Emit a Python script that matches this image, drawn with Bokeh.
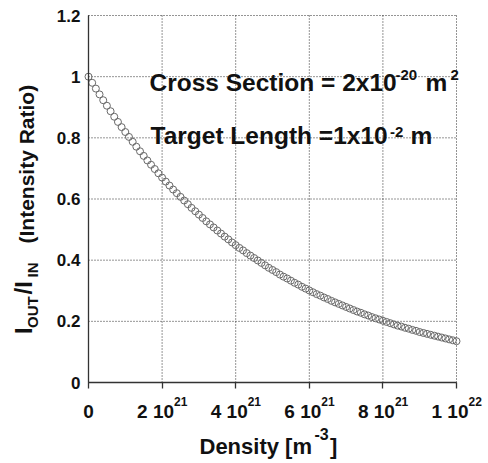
from math import pi
from bokeh.plotting import figure
from bokeh.models import Range1d, FixedTicker, Label, LinearAxis
from bokeh.embed import file_html
from bokeh.resources import INLINE

# ---------------- data ----------------
density_1e20 = [0, 1, 2, 3, 4, 5, 6, 7, 8, 9, 10, 11, 12, 13, 14, 15, 16, 17, 18, 19,
                20, 21, 22, 23, 24, 25, 26, 27, 28, 29, 30, 31, 32, 33, 34, 35, 36, 37, 38, 39,
                40, 41, 42, 43, 44, 45, 46, 47, 48, 49, 50, 51, 52, 53, 54, 55, 56, 57, 58, 59,
                60, 61, 62, 63, 64, 65, 66, 67, 68, 69, 70, 71, 72, 73, 74, 75, 76, 77, 78, 79,
                80, 81, 82, 83, 84, 85, 86, 87, 88, 89, 90, 91, 92, 93, 94, 95, 96, 97, 98, 99, 100]
intensity_ratio = [1.000, 0.980, 0.961, 0.942, 0.923, 0.905, 0.887, 0.869, 0.852, 0.835,
                   0.819, 0.803, 0.787, 0.771, 0.756, 0.741, 0.726, 0.712, 0.698, 0.684,
                   0.670, 0.657, 0.644, 0.631, 0.619, 0.607, 0.595, 0.583, 0.571, 0.560,
                   0.549, 0.538, 0.527, 0.517, 0.507, 0.497, 0.487, 0.477, 0.468, 0.458,
                   0.449, 0.440, 0.432, 0.423, 0.415, 0.407, 0.399, 0.391, 0.383, 0.375,
                   0.368, 0.361, 0.353, 0.346, 0.340, 0.333, 0.326, 0.320, 0.313, 0.307,
                   0.301, 0.295, 0.289, 0.284, 0.278, 0.273, 0.267, 0.262, 0.257, 0.252,
                   0.247, 0.242, 0.237, 0.232, 0.228, 0.223, 0.219, 0.214, 0.210, 0.206,
                   0.202, 0.198, 0.194, 0.190, 0.186, 0.183, 0.179, 0.176, 0.172, 0.169,
                   0.165, 0.162, 0.159, 0.156, 0.153, 0.150, 0.147, 0.144, 0.141, 0.138, 0.135]
density = [d * 1e20 for d in density_1e20]

x_tick_vals = [0, 2e21, 4e21, 6e21, 8e21, 1e22]
x_tick_mant = ["0", "2 10", "4 10", "6 10", "8 10", "1 10"]
x_tick_exp = ["", "21", "21", "21", "21", "22"]
y_tick_vals = [0, 0.2, 0.4, 0.6, 0.8, 1.0, 1.2]
y_tick_labels = ["0", "0.2", "0.4", "0.6", "0.8", "1", "1.2"]

X_MAX = 1e22
Y_MAX = 1.2

# ---------------- layout (pixel geometry of the plot box) ----------------
W, H = 488, 463
PX_L, PX_R = 88, 456      # picture x of density 0 and 1e22
PY_B, PY_T = 382, 15      # picture y of ratio 0 and 1.2
FONT = "Liberation Sans"
INK = "#111111"
BASE = 0.35               # label anchor sits this many em above the drawn baseline


def X(px):  # picture pixel x -> data x
    return X_MAX * (px - PX_L) / (PX_R - PX_L)


def Y(py):  # picture pixel y -> data y
    return Y_MAX * (PY_B - py) / (PY_B - PY_T)


p = figure(width=W, height=H, output_backend="svg", toolbar_location=None,
           x_range=Range1d(X(0), X(W)), y_range=Range1d(Y(H), Y(0)),
           x_axis_location=None, y_axis_location=None,
           min_border_left=0, min_border_right=0, min_border_top=0, min_border_bottom=0)
p.outline_line_color = None
p.background_fill_color = "white"
p.border_fill_color = "white"
p.xgrid.visible = False
p.ygrid.visible = False

# dotted grid (incl. the top and right box edges), from the tick arrays
p.segment(x0=x_tick_vals, y0=[0] * len(x_tick_vals), x1=x_tick_vals, y1=[Y_MAX] * len(x_tick_vals),
          line_color="#2a2a2a", line_dash="1 2", line_width=1)
p.segment(x0=[0] * len(y_tick_vals), y0=y_tick_vals, x1=[X_MAX] * len(y_tick_vals), y1=y_tick_vals,
          line_color="#2a2a2a", line_dash="1 2", line_width=1)

# x axis (fixed at ratio 0)
xa = LinearAxis(fixed_location=0, bounds=(0, X_MAX), ticker=FixedTicker(ticks=x_tick_vals))
xa.major_label_overrides = {v: "" for v in x_tick_vals}
xa.axis_line_color = "#333333"
xa.axis_line_width = 1.3
xa.major_tick_line_color = "#333333"
xa.major_tick_line_width = 1.3
xa.major_tick_out = 6
xa.major_tick_in = 0
xa.minor_tick_line_color = None
p.add_layout(xa, "below")

# y axis (fixed at density 0)
ya = LinearAxis(fixed_location=0, bounds=(0, Y_MAX), ticker=FixedTicker(ticks=y_tick_vals))
ya.major_label_overrides = dict(zip(y_tick_vals, y_tick_labels))
ya.axis_line_color = "#333333"
ya.axis_line_width = 1.3
ya.major_tick_line_color = None
ya.major_tick_out = 0
ya.major_tick_in = 0
ya.minor_tick_line_color = None
ya.major_label_standoff = 8
ya.major_label_text_font = FONT
ya.major_label_text_font_style = "bold"
ya.major_label_text_font_size = "17px"
ya.major_label_text_color = INK
p.add_layout(ya, "left")

# data
p.scatter(density, intensity_ratio, marker="circle", size=7,
          fill_color=None, line_color="#6a6a6a", line_width=1)


def lab(px, py, text, size, align="left", xdata=None, x_offset=0):
    """Horizontal text; (px, py) = picture position of the baseline anchor."""
    x = X(px) if xdata is None else xdata
    p.add_layout(Label(x=x, y=Y(py - BASE * size), text=text, text_font=FONT,
                       text_font_style="bold", text_font_size=f"{size}px", text_color=INK,
                       text_align=align, text_baseline="alphabetic", x_offset=x_offset))


def vlab(px, py, text, size):
    """Text rotated 90 deg (reads upward); px = baseline x, py = start y."""
    p.add_layout(Label(x=X(px - BASE * size), y=Y(py), text=text, text_font=FONT,
                       text_font_style="bold", text_font_size=f"{size}px", text_color=INK,
                       text_align="left", text_baseline="alphabetic", angle=pi / 2))


# x tick labels with superscript exponents
for v, m, e in zip(x_tick_vals, x_tick_mant, x_tick_exp):
    if e:
        lab(0, 417.5, m, 19, align="right", xdata=v, x_offset=12)
        lab(0, 405, e, 12, align="left", xdata=v, x_offset=12)
    else:
        lab(0, 417.5, m, 19, align="center", xdata=v)

# x axis title
lab(199, 453.5, "Density [m", 22)
lab(314, 439.5, "-3", 16)
lab(329.5, 453.5, "]", 22)

# y axis title (rotated)
vlab(31, 333.5, "I", 24)
vlab(37, 327.5, "OUT", 15)
vlab(31, 294, "/I", 24)
vlab(37, 277, "IN", 15)
vlab(33, 243, "(Intensity Ratio)", 21)

# in-plot annotations
lab(149, 90.5, "Cross Section = 2x10", 24.5)
lab(395, 80, "-20", 15)
lab(425, 90.5, "m", 24.5)
lab(450, 80, "2", 15)

lab(150, 143.5, "Target Length =1x10", 24.5)
lab(389.5, 137, "-2", 15)
lab(410, 143.5, "m", 24.5)

open("out.html", "w").write(file_html(p, INLINE))
